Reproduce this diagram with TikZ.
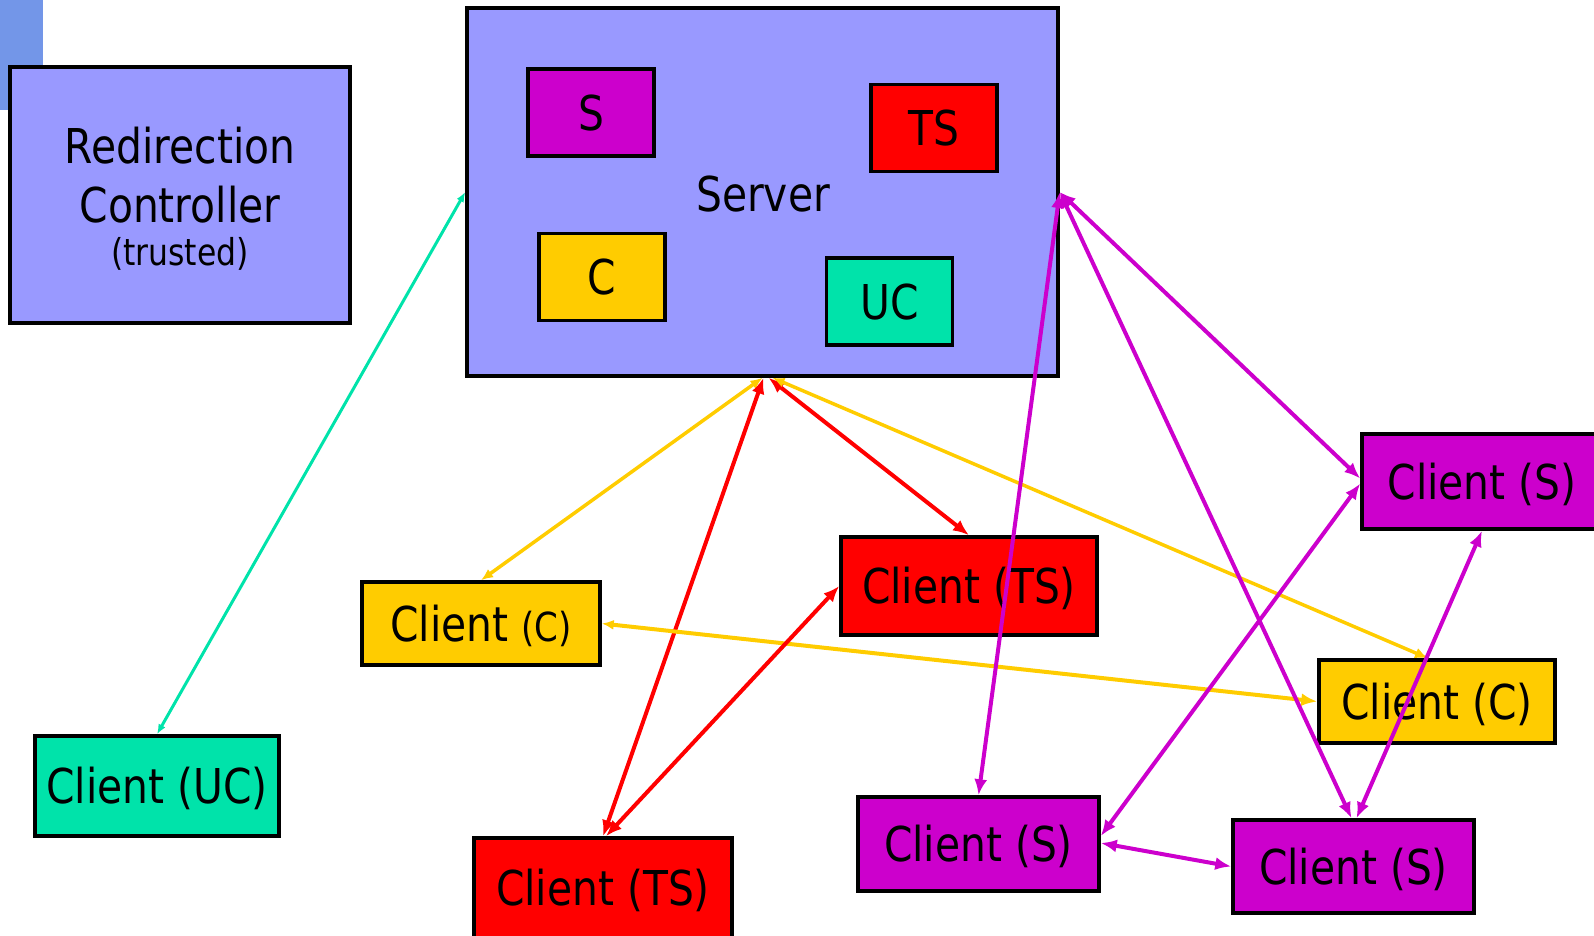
\documentclass[tikz,border=0pt]{standalone}
\usepackage{fontspec}
\setmainfont{DejaVu Sans}[FakeStretch=0.85]
\usetikzlibrary{arrows.meta}

\definecolor{srvblue}{RGB}{153,153,255}
\definecolor{cornerblue}{RGB}{115,150,232}
\definecolor{smag}{RGB}{204,0,204}
\definecolor{tsred}{RGB}{255,0,0}
\definecolor{cgold}{RGB}{255,204,0}
\definecolor{ucteal}{RGB}{0,227,170}

\begin{document}
\begin{tikzpicture}[x=1pt,y=-1pt,
  box/.style={draw=black, line width=3.5pt, inner sep=0pt,
    text height=35pt, text depth=0pt,
    font=\fontsize{48}{48}\selectfont},
  inbox/.style={box, minimum width=126pt, minimum height=87pt},
  lbl/.style={inner sep=0pt, font=\fontsize{48}{48}\selectfont},
  link/.style={line width=4pt,
    {Latex[length=16pt,width=13pt]}-{Latex[length=16pt,width=13pt]}},
  thinlink/.style={line width=3pt,
    {Latex[length=10pt,width=8pt]}-{Latex[length=10pt,width=8pt]}}
]
\useasboundingbox (0,0) rectangle (1594,935);
\clip (0,0) rectangle (1594,935);

% corner tab behind the controller
\fill[cornerblue] (0,0) rectangle (43,110);

% redirection controller
\node[box, fill=srvblue, minimum width=340pt, minimum height=256pt] (rc) at (180,195) {};
\node[lbl, anchor=base] (rc1) at (180,163) {Redirection};
\node[lbl, anchor=base] (rc2) at (180,222) {Controller};
\node[lbl, anchor=base, font=\fontsize{37}{37}\selectfont] (rc3) at (180,265) {(trusted)};

% server with its components
\node[box, fill=srvblue, minimum width=591pt, minimum height=368pt] (srv) at (762.5,192) {};
\node[lbl, text height=35pt, text depth=0pt] (srvlbl) at (763,194) {Server};
\node[inbox, fill=smag] (ks) at (591,112.5) {S};
\node[inbox, fill=tsred] (kts) at (934,128) {TS};
\node[inbox, fill=cgold] (kc) at (602,277) {C};
\node[inbox, fill=ucteal] (kuc) at (889.5,301.5) {UC};

% clients
\node[box, fill=ucteal, minimum width=244pt, minimum height=100pt] (cuc) at (157,786) {Client (UC)};
\node[box, fill=cgold, minimum width=238pt, minimum height=83pt] (ccl) at (481,623.5) {Client {\fontsize{40}{40}\selectfont(C)}};
\node[box, fill=tsred, minimum width=258pt, minimum height=100pt] (ctsb) at (603,888) {Client (TS)};
\node[box, fill=tsred, minimum width=256pt, minimum height=98pt] (ctsm) at (969,586) {Client (TS)};
\node[box, fill=cgold, minimum width=236pt, minimum height=83pt] (ccr) at (1437,701.5) {Client (C)};
\node[box, fill=smag, minimum width=240pt, minimum height=95pt] (csr) at (1482,481.5) {Client (S)};
\node[box, fill=smag, minimum width=241pt, minimum height=94pt] (csb1) at (978.5,844) {Client (S)};
\node[box, fill=smag, minimum width=241pt, minimum height=93pt] (csb2) at (1353.5,866.5) {Client (S)};

% links
\draw[thinlink, ucteal] (srv.west) -- (cuc.north);
\draw[link, cgold, line width=3.5pt, {Latex[length=12pt,width=10pt]}-{Latex[length=12pt,width=10pt]}] (srv.south) -- (ccl.north);
\draw[link, tsred] ([xshift=1pt]srv.south) -- (ctsb.north);
\draw[link, tsred] ([xshift=6pt]srv.south) -- (ctsm.north);
\draw[link, cgold, line width=3.5pt, {Latex[length=12pt,width=10pt]}-{Latex[length=13pt,width=11pt]}] ([xshift=10pt]srv.south) -- ([xshift=-9pt]ccr.north);
\draw[link, cgold, {Latex[length=12pt,width=10pt]}-{Latex[length=16pt,width=13pt]}] (ccl.east) -- (ccr.west);
\draw[link, tsred] ([xshift=3pt]ctsb.north) -- (ctsm.west);
\draw[link, smag] (srv.east) -- (csb1.north);
\draw[link, smag] (srv.east) -- ([yshift=3pt]csr.west);
\draw[link, smag] (srv.east) -- ([xshift=-2pt]csb2.north);
\draw[link, smag] ([yshift=-2pt]csr.west) -- ([yshift=8pt]csb1.east);
\draw[link, smag] (csr.south) -- ([xshift=3pt]csb2.north);
\draw[link, smag] ([yshift=1pt]csb1.east) -- (csb2.west);
\end{tikzpicture}
\end{document}
